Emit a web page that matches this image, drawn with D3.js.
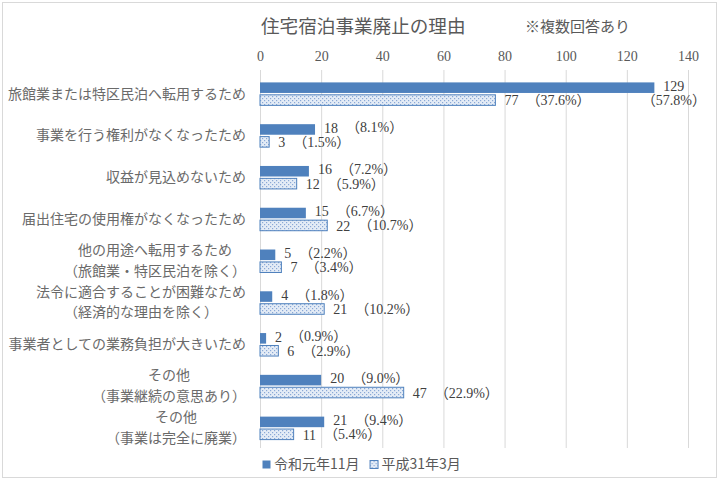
<!DOCTYPE html>
<html>
<head>
<meta charset="utf-8">
<script src="https://cdn.jsdelivr.net/npm/d3@7"></script>
<style>
  body { margin: 0; background: #fff; }
  svg { display: block; }
</style>
</head>
<body>
<div id="chart"></div>
<script>
// data
var categories = [
  ["旅館業または特区民泊へ転用するため"],
  ["事業を行う権利がなくなったため"],
  ["収益が見込めないため"],
  ["届出住宅の使用権がなくなったため"],
  ["他の用途へ転用するため", "（旅館業・特区民泊を除く）"],
  ["法令に適合することが困難なため", "（経済的な理由を除く）"],
  ["事業者としての業務負担が大きいため"],
  ["その他", "（事業継続の意思あり）"],
  ["その他", "（事業は完全に廃業）"]
];
var seriesNames = ["令和元年11月", "平成31年3月"];
var valuesR1 = [129, 18, 16, 15, 5, 4, 2, 20, 21];
var pctR1 = ["57.8", "8.1", "7.2", "6.7", "2.2", "1.8", "0.9", "9.0", "9.4"];
var valuesH31 = [77, 3, 12, 22, 7, 21, 6, 47, 11];
var pctH31 = ["37.6", "1.5", "5.9", "10.7", "3.4", "10.2", "2.9", "22.9", "5.4"];
var xTicks = [0, 20, 40, 60, 80, 100, 120, 140];

var w = 721, h = 484;
var dark = "#4f81bd";
var grey = "#595959";
var catGrey = "#6a6a6a";
var serif = "'Liberation Serif', 'Noto Sans CJK JP', serif";
var sans = "'Noto Sans CJK JP', sans-serif";

var svg = d3.select("#chart").append("svg")
  .attr("width", w)
  .attr("height", h);

// dotted fill for the second series
var defs = svg.append("defs");
var pat = defs.append("pattern")
  .attr("id", "dots")
  .attr("patternUnits", "userSpaceOnUse")
  .attr("width", 4)
  .attr("height", 4);
pat.append("rect").attr("width", 4).attr("height", 4).attr("fill", "#e4ecf6");
pat.append("rect").attr("x", 0).attr("y", 0).attr("width", 1.2).attr("height", 1.2).attr("fill", "#8aa8d6");
pat.append("rect").attr("x", 2).attr("y", 2).attr("width", 1.2).attr("height", 1.2).attr("fill", "#8aa8d6");

// frame
svg.append("rect")
  .attr("x", 2.5).attr("y", 2.5)
  .attr("width", 714).attr("height", 475)
  .attr("fill", "none")
  .attr("stroke", "#d9d9d9");

// scales
var x = d3.scaleLinear().domain([0, 140]).range([260, 688]);
var y0 = d3.scaleBand()
  .domain(d3.range(categories.length))
  .range([73, 449])
  .paddingInner(0.45)
  .paddingOuter(0.225);
var y1 = d3.scaleBand()
  .domain([0, 1])
  .range([0, y0.bandwidth()])
  .paddingInner(0.15);

// title
svg.append("text")
  .attr("x", 261).attr("y", 28)
  .attr("dominant-baseline", "middle")
  .style("font-family", sans)
  .style("font-size", "18.6px")
  .attr("fill", grey)
  .text("住宅宿泊事業廃止の理由");

svg.append("text")
  .attr("x", 525).attr("y", 28)
  .attr("dominant-baseline", "middle")
  .style("font-family", sans)
  .style("font-size", "15px")
  .attr("fill", grey)
  .text("※複数回答あり");

// gridlines + top axis labels
var xAxis = d3.axisTop(x)
  .tickValues(xTicks)
  .tickSize(-(448 - 70))
  .tickPadding(8);

var gx = svg.append("g")
  .attr("transform", "translate(0,70)")
  .call(xAxis);
gx.select(".domain").remove();
gx.selectAll(".tick line").attr("stroke", "#d9d9d9");
gx.selectAll(".tick text")
  .attr("y", -14)
  .attr("dy", "0.35em")
  .style("font-family", serif)
  .style("font-size", "14px")
  .attr("fill", grey);

// category labels, multi-line ones centred on each other
var labelRight = 246;
categories.forEach(function(lines, i) {
  var cy = y0(i) + y0.bandwidth() / 2;
  var t = svg.append("text")
    .attr("dominant-baseline", "middle")
    .style("font-family", sans)
    .style("font-size", "14px")
    .attr("fill", catGrey);
  if (lines.length === 1) {
    t.attr("x", labelRight).attr("y", cy + 1)
      .attr("text-anchor", "end")
      .text(lines[0]);
  } else {
    t.attr("text-anchor", "middle");
    var spans = t.selectAll("tspan")
      .data(lines)
      .enter().append("tspan")
      .attr("y", function(d, k) { return cy - 10 + k * 20.5; })
      .text(function(d) { return d; });
    var maxW = d3.max(spans.nodes(), function(n) { return n.getComputedTextLength(); });
    spans.attr("x", labelRight - maxW / 2);
  }
});

// bars
var rows = categories.map(function(c, i) {
  return [
    {cat: i, s: 0, v: valuesR1[i], p: pctR1[i]},
    {cat: i, s: 1, v: valuesH31[i], p: pctH31[i]}
  ];
});
var flat = d3.merge(rows);

svg.selectAll("rect.bar")
  .data(flat)
  .enter().append("rect")
  .attr("class", "bar")
  .attr("x", x(0))
  .attr("y", function(d) { return y0(d.cat) + y1(d.s); })
  .attr("width", function(d) { return x(d.v) - x(0); })
  .attr("height", y1.bandwidth())
  .attr("fill", function(d) { return d.s === 0 ? dark : "url(#dots)"; })
  .attr("stroke", function(d) { return d.s === 0 ? "none" : dark; })
  .attr("stroke-width", 1);

// value + percent labels
flat.forEach(function(d) {
  var cy = y0(d.cat) + y1(d.s) + y1.bandwidth() / 2 + (d.s === 0 ? 0 : 2);
  var lx = x(d.v) + 9;
  var lab = svg.append("text")
    .attr("x", lx).attr("y", cy)
    .attr("dominant-baseline", "middle")
    .style("font-family", serif)
    .style("font-size", "14px")
    .attr("fill", "#404040")
    .text(d.v);
  var vw = lab.node().getComputedTextLength();
  var pctText = "（" + d.p + "%）";
  if (lx + vw + 60 > 705) {
    // no room on the right: put the share under the value
    svg.append("text")
      .attr("x", lx + vw / 2).attr("y", cy + 14)
      .attr("text-anchor", "middle")
      .attr("dominant-baseline", "middle")
      .style("font-family", serif)
      .style("font-size", "14px")
      .attr("fill", "#404040")
      .text(pctText);
  } else {
    lab.append("tspan")
      .attr("dx", 8)
      .text(pctText);
  }
});

// legend
var lg = svg.append("g").attr("transform", "translate(262,465)");
var lx0 = 0;
seriesNames.forEach(function(name, i) {
  var item = lg.append("g").attr("transform", "translate(" + lx0 + ",0)");
  item.append("rect")
    .attr("x", 0.5).attr("y", -4.5)
    .attr("width", 8).attr("height", 8)
    .attr("fill", i === 0 ? dark : "url(#dots)")
    .attr("stroke", i === 0 ? "none" : dark);
  var t = item.append("text")
    .attr("x", 12).attr("y", 0)
    .attr("dominant-baseline", "middle")
    .style("font-family", sans)
    .style("font-size", "14px")
    .attr("fill", grey)
    .text(name);
  lx0 += 12 + t.node().getComputedTextLength() + 10;
});
</script>
</body>
</html>
